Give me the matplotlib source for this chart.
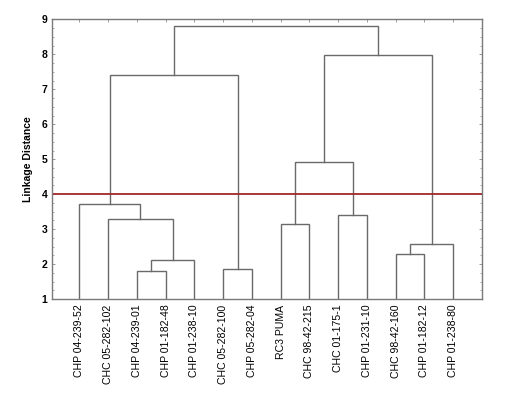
import matplotlib
matplotlib.use("Agg")
import matplotlib.pyplot as plt
from matplotlib.ticker import MultipleLocator

plt.rcParams['font.family'] = ['Liberation Sans', 'DejaVu Sans']

leaf_labels = ["CHP 04-239-52", "CHC 05-282-102", "CHP 04-239-01", "CHP 01-182-48",
               "CHP 01-238-10", "CHC 05-282-100", "CHP 05-282-04", "RC3 PUMA",
               "CHC 98-42-215", "CHC 01-175-1", "CHP 01-231-10", "CHC 98-42-160",
               "CHP 01-182-12", "CHP 01-238-80"]
# merges: (child_a, child_b, linkage distance); indices >= 14 refer to earlier merges
merge_a = [2, 5, 14, 11, 17, 7, 1, 9, 0, 19, 22, 23, 24]
merge_b = [3, 6, 4, 12, 13, 8, 16, 10, 20, 21, 15, 18, 25]
merge_h = [1.80, 1.87, 2.13, 2.29, 2.57, 3.16, 3.28, 3.40, 3.72, 4.92, 7.40, 7.97, 8.81]
cut_level = 4.0
y_ticks = [1, 2, 3, 4, 5, 6, 7, 8, 9]

fig = plt.figure(figsize=(5.16, 3.93), dpi=100)
ax = fig.add_axes([0.1008, 0.2392, 0.8333, 0.7112])

n = len(leaf_labels)
pos = {i: i + 1 for i in range(n)}
hgt = {i: 1.0 for i in range(n)}
lc = '#6a6a6a'
for k, (a, b, h) in enumerate(zip(merge_a, merge_b, merge_h)):
    xa, xb = pos[a], pos[b]
    ax.plot([xa, xa, xb, xb], [hgt[a], h, h, hgt[b]], color=lc, lw=1.0,
            solid_joinstyle='miter')
    pos[n + k] = (xa + xb) / 2
    hgt[n + k] = h

ax.axhline(cut_level, color='#a3262a', lw=1.3)

ax.set_xlim(0.05, 15.0)
ax.set_ylim(1, 9)
ax.set_xticks(range(1, n + 1))
ax.set_xticklabels(leaf_labels, rotation=90, fontsize=7.6)
ax.set_yticks(y_ticks)
ax.set_yticklabels([str(t) for t in y_ticks], fontsize=7.5, fontweight='bold')
ax.yaxis.set_minor_locator(MultipleLocator(0.25))
ax.tick_params(axis='both', which='both', direction='in', top=True, right=True,
               colors='#888888', labelcolor='black')
ax.tick_params(axis='both', which='major', length=2.5, width=0.6)
ax.tick_params(axis='y', which='minor', length=1.5, width=0.5)
ax.tick_params(axis='x', which='major', pad=4)
ax.set_ylabel("Linkage Distance", fontsize=7.5, fontweight='bold', labelpad=6)
for s in ax.spines.values():
    s.set_color('#7a7a7a')
    s.set_linewidth(1.0)

fig.savefig("out.png", dpi=100)
